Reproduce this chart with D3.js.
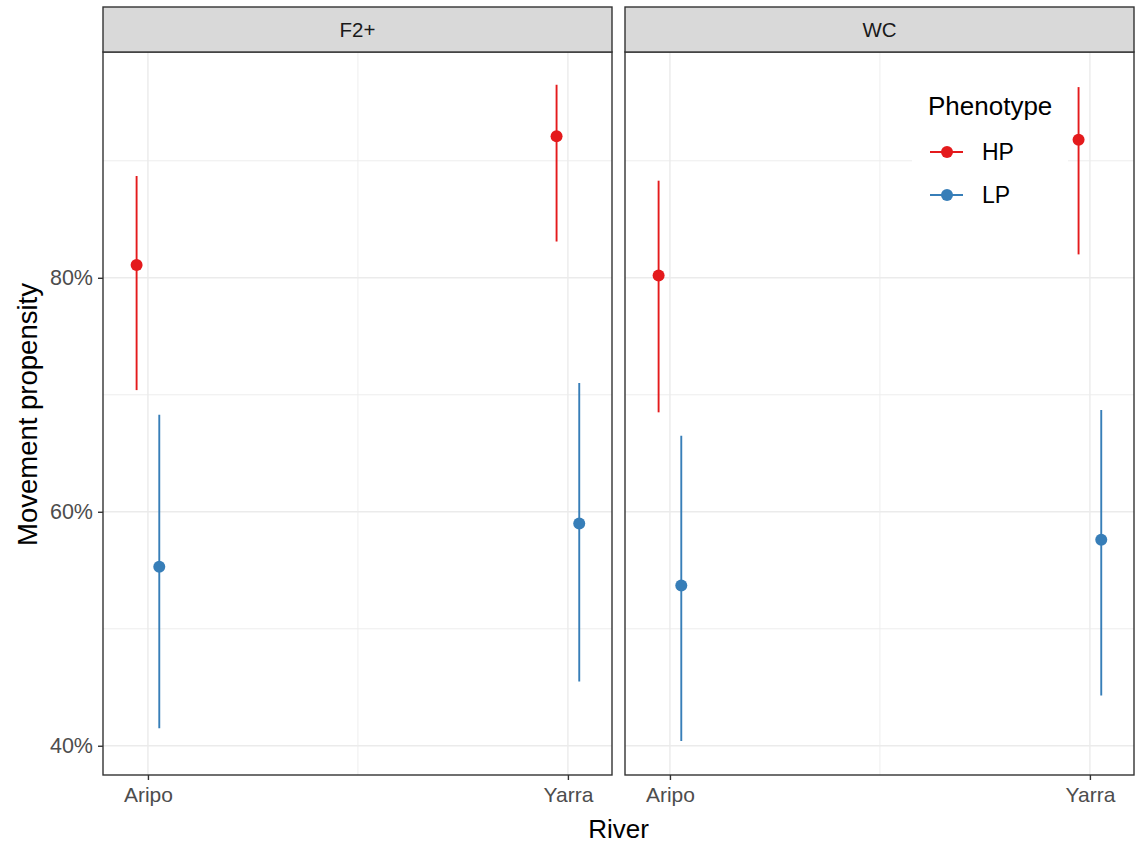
<!DOCTYPE html>
<html>
<head>
<meta charset="utf-8">
<script src="https://cdn.jsdelivr.net/npm/d3@7"></script>
<style>
  body { margin: 0; background: #fff; }
  text { font-family: "Liberation Sans", Arial, sans-serif; }
</style>
</head>
<body>
<div id="chart"></div>
<script>
// facets, x categories and legend groups
const facets = ["F2+", "WC"];
const rivers = ["Aripo", "Yarra"];
const phenotypes = ["HP", "LP"];
const phenoColors = ["#E41A1C", "#377EB8"];

// one row per point (values in %)
const rowFacet = ["F2+", "F2+", "F2+", "F2+", "WC", "WC", "WC", "WC"];
const rowRiver = ["Aripo", "Aripo", "Yarra", "Yarra", "Aripo", "Aripo", "Yarra", "Yarra"];
const rowPheno = ["HP", "LP", "HP", "LP", "HP", "LP", "HP", "LP"];
const rowEstimate = [81.1, 55.3, 92.1, 59.0, 80.2, 53.7, 91.8, 57.6];
const rowLower = [70.4, 41.5, 83.1, 45.5, 68.5, 40.4, 82.0, 44.3];
const rowUpper = [88.7, 68.3, 96.5, 71.0, 88.3, 66.5, 96.3, 68.7];

const yMajor = [40, 60, 80];
const yMinor = [50, 70, 90];

function renderChart() {
  let W = 1138, H = 845;
  let panelTop = 52, panelBottom = 775, stripTop = 7;
  let panelW = 509, panelX = [103, 625];

  let svg = d3.select("#chart")
    .append("svg")
    .attr("width", W)
    .attr("height", H);

  let y = d3.scaleLinear()
    .domain([37.5, 99.3])
    .range([panelBottom, panelTop]);

  let x = d3.scaleLinear()
    .domain([0.893, 2.105])
    .range([0, panelW]);

  let dodge = {HP: -0.027, LP: 0.027};
  let color = d3.scaleOrdinal().domain(phenotypes).range(phenoColors);

  let rows = rowEstimate.map((v, i) => ({
    facet: rowFacet[i], river: rowRiver[i], pheno: rowPheno[i],
    est: v, lo: rowLower[i], hi: rowUpper[i]
  }));

  facets.forEach((f, fi) => {
    let g = svg.append("g")
      .attr("transform", "translate(" + panelX[fi] + ",0)");

    // grid
    g.selectAll(".minor-y").data(yMinor).enter().append("line")
      .attr("x1", 0).attr("x2", panelW)
      .attr("y1", d => y(d)).attr("y2", d => y(d))
      .attr("stroke", "#EBEBEB").attr("stroke-width", 0.9);
    g.selectAll(".major-y").data(yMajor).enter().append("line")
      .attr("x1", 0).attr("x2", panelW)
      .attr("y1", d => y(d)).attr("y2", d => y(d))
      .attr("stroke", "#EBEBEB").attr("stroke-width", 1.4);
    g.append("line")
      .attr("x1", x(1.5)).attr("x2", x(1.5))
      .attr("y1", panelTop).attr("y2", panelBottom)
      .attr("stroke", "#EBEBEB").attr("stroke-width", 0.9);
    g.selectAll(".major-x").data(rivers).enter().append("line")
      .attr("x1", (d, i) => x(i + 1)).attr("x2", (d, i) => x(i + 1))
      .attr("y1", panelTop).attr("y2", panelBottom)
      .attr("stroke", "#EBEBEB").attr("stroke-width", 1.4);

    let sub = rows.filter(r => r.facet === f);
    let px = r => x(rivers.indexOf(r.river) + 1 + dodge[r.pheno]);

    g.selectAll(".bar").data(sub).enter().append("line")
      .attr("x1", px).attr("x2", px)
      .attr("y1", r => y(r.lo)).attr("y2", r => y(r.hi))
      .attr("stroke", r => color(r.pheno))
      .attr("stroke-width", 1.9);
    g.selectAll(".pt").data(sub).enter().append("circle")
      .attr("cx", px).attr("cy", r => y(r.est))
      .attr("r", 6)
      .attr("fill", r => color(r.pheno));

    // panel border + strip
    g.append("rect")
      .attr("x", 0).attr("y", panelTop)
      .attr("width", panelW).attr("height", panelBottom - panelTop)
      .attr("fill", "none").attr("stroke", "#333333").attr("stroke-width", 1.4);
    g.append("rect")
      .attr("x", 0).attr("y", stripTop)
      .attr("width", panelW).attr("height", panelTop - stripTop)
      .attr("fill", "#D9D9D9").attr("stroke", "#333333").attr("stroke-width", 1.4);
    g.append("text")
      .attr("x", panelW / 2).attr("y", (stripTop + panelTop) / 2)
      .attr("dy", "0.35em")
      .attr("text-anchor", "middle")
      .attr("fill", "#1A1A1A")
      .style("font-size", "20.5px")
      .text(f);

    // x axis
    let xAxis = g.append("g")
      .attr("transform", "translate(0," + panelBottom + ")")
      .call(d3.axisBottom(x).tickValues([1, 2])
        .tickFormat((d) => rivers[d - 1]).tickSize(5).tickPadding(7));
    xAxis.select(".domain").remove();
    xAxis.selectAll("line").attr("stroke", "#333333").attr("stroke-width", 1.4);
    xAxis.selectAll("text").attr("fill", "#4D4D4D")
      .style("font-size", "21px").style("font-family", "Liberation Sans, Arial, sans-serif");

    if (fi === 0) {
      let yAxis = g.append("g")
        .call(d3.axisLeft(y).tickValues(yMajor)
          .tickFormat(d => d + "%").tickSize(5).tickPadding(5));
      yAxis.select(".domain").remove();
      yAxis.selectAll("line").attr("stroke", "#333333").attr("stroke-width", 1.4);
      yAxis.selectAll("text").attr("fill", "#4D4D4D")
        .style("font-size", "21.5px").style("font-family", "Liberation Sans, Arial, sans-serif");
    }
  });

  // axis titles
  svg.append("text")
    .attr("x", (panelX[0] + panelX[1] + panelW) / 2)
    .attr("y", 838)
    .attr("text-anchor", "middle")
    .style("font-size", "26px")
    .text("River");
  svg.append("text")
    .attr("transform", "translate(37," + ((panelTop + panelBottom) / 2 + 1) + ") rotate(-90)")
    .attr("text-anchor", "middle")
    .style("font-size", "27.5px")
    .text("Movement propensity");

  // legend inside WC panel
  let legend = svg.append("g").attr("transform", "translate(912,80)");
  legend.append("rect")
    .attr("x", 0).attr("y", 0).attr("width", 156).attr("height", 140)
    .attr("fill", "#fff");
  legend.append("text")
    .attr("x", 16).attr("y", 35)
    .style("font-size", "26px")
    .text("Phenotype");
  phenotypes.forEach((p, i) => {
    let ky = 72 + i * 43;
    legend.append("line")
      .attr("x1", 18).attr("x2", 51)
      .attr("y1", ky).attr("y2", ky)
      .attr("stroke", color(p)).attr("stroke-width", 1.9);
    legend.append("circle")
      .attr("cx", 35).attr("cy", ky).attr("r", 6)
      .attr("fill", color(p));
    legend.append("text")
      .attr("x", 70).attr("y", ky)
      .attr("dy", "0.35em")
      .style("font-size", "23px")
      .text(p);
  });
}

renderChart();
</script>
</body>
</html>
